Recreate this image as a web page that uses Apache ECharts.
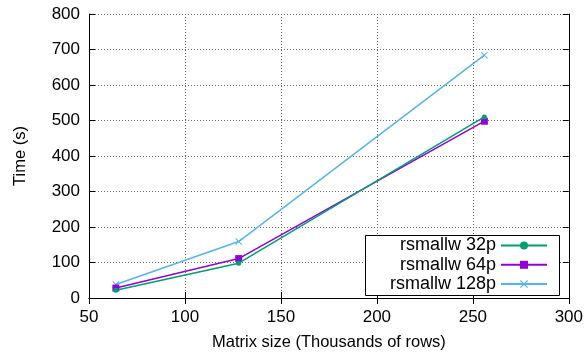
<!DOCTYPE html>
<html><head><meta charset="utf-8">
<script src="https://cdn.jsdelivr.net/npm/echarts@6/dist/echarts.min.js"></script>
<style>html,body{margin:0;padding:0;background:#fff}#c{width:586px;height:356px}</style>
</head><body><div id="c"></div>
<script>
const sizes = [64, 128, 256];
const seriesNames = ['rsmallw 32p', 'rsmallw 64p', 'rsmallw 128p'];
const t32 = [22, 98, 510];
const t64 = [28, 111, 498];
const t128 = [38, 159, 684];
const colors = ['#009e73', '#9400d3', '#56b4e9'];
const xTitle = 'Matrix size (Thousands of rows)';
const yTitle = 'Time (s)';

const font = 'Liberation Sans, Arial, sans-serif';
const crossPath = 'path://M0,1 L1,0 L5,4 L9,0 L10,1 L6,5 L10,9 L9,10 L5,6 L1,10 L0,9 L4,5 Z';
const symbols = ['circle', 'rect', crossPath];
const symSizes = [5, 7, 7];
const vals = [t32, t64, t128];

const chart = echarts.init(document.getElementById('c'), null, {renderer: 'canvas'});
const grid = {left: 89, right: 17, top: 14, bottom: 58};
const axisCommon = {
  axisLine: {show: true, lineStyle: {color: '#000', width: 1}},
  axisTick: {show: true, inside: true, length: 6, lineStyle: {color: '#000'}},
};
const series = seriesNames.map((n, i) => ({
  name: n, type: 'line',
  data: sizes.map((x, j) => [x, vals[i][j]]),
  symbol: symbols[i], symbolSize: symSizes[i], showSymbol: true,
  lineStyle: {color: colors[i], width: 1.5},
  itemStyle: {color: colors[i]},
  color: colors[i],
  animation: false, z: 3 - i + 2
}));
const legends = seriesNames.map((n, i) => ({
  data: [n], right: 38, top: 236.5 + i * 19.3, align: 'right',
  itemWidth: 46, itemHeight: 10, itemGap: 12, padding: 0, z: 20,
  textStyle: {fontFamily: font, fontSize: 18, color: '#000'}
}));
chart.setOption({
  animation: false,
  grid: grid,
  legend: legends,
  xAxis: [
    Object.assign({type: 'value', min: 50, max: 300, interval: 50, position: 'bottom',
      name: xTitle, nameLocation: 'middle', nameGap: 36,
      nameTextStyle: {fontFamily: font, fontSize: 16.5, color: '#000'},
      axisLabel: {fontFamily: font, fontSize: 17, color: '#000', margin: 11},
      splitLine: {show: true, lineStyle: {color: '#666', type: [1, 2], width: 1}}}, axisCommon),
    Object.assign({type: 'value', min: 50, max: 300, interval: 50, position: 'top',
      axisLabel: {show: false}, splitLine: {show: false}}, axisCommon)
  ],
  yAxis: [
    Object.assign({type: 'value', min: 0, max: 800, interval: 100, position: 'left',
      name: yTitle, nameLocation: 'middle', nameGap: 60, nameRotate: 90,
      nameTextStyle: {fontFamily: font, fontSize: 16.5, color: '#000'},
      axisLabel: {fontFamily: font, fontSize: 17, color: '#000', margin: 9},
      splitLine: {show: true, lineStyle: {color: '#666', type: [1, 2], width: 1}}}, axisCommon),
    Object.assign({type: 'value', min: 0, max: 800, interval: 100, position: 'right',
      axisLabel: {show: false}, splitLine: {show: false}}, axisCommon)
  ],
  graphic: [{type: 'rect', z: 2, shape: {x: 365.5, y: 235.5, width: 194, height: 60},
    style: {fill: '#fff', stroke: '#000', lineWidth: 1}}],
  series: series
});
</script></body></html>
